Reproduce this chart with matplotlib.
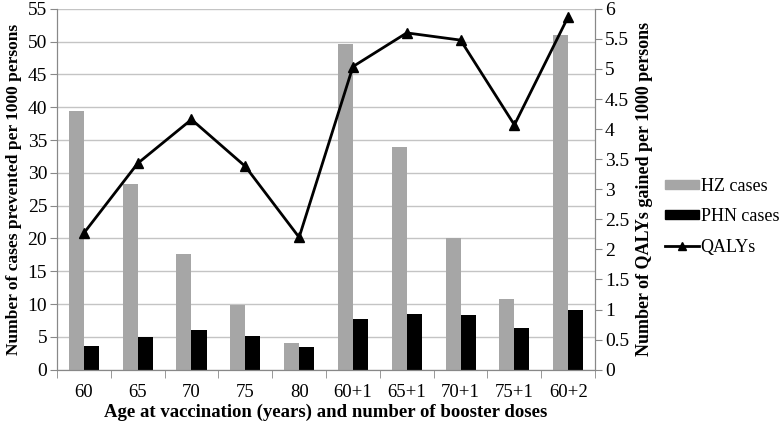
import numpy as np
import matplotlib
matplotlib.use("Agg")
import matplotlib.pyplot as plt
from matplotlib.patches import Patch
from matplotlib.lines import Line2D

plt.rcParams["font.family"] = ["Liberation Serif", "DejaVu Serif"]

groups = ["60", "65", "70", "75", "80", "60+1", "65+1", "70+1", "75+1", "60+2"]
hz_cases = [39.4, 28.3, 17.6, 9.8, 4.0, 49.6, 34.0, 20.0, 10.8, 51.0]
phn_cases = [3.6, 5.0, 6.1, 5.2, 3.5, 7.7, 8.5, 8.3, 6.3, 9.1]
qalys = [2.27, 3.43, 4.16, 3.38, 2.2, 5.04, 5.6, 5.48, 4.07, 5.87]

x = np.arange(len(groups))
w = 0.28

fig = plt.figure(figsize=(7.8, 4.21), dpi=100)
ax = fig.add_axes([0.073, 0.122, 0.69, 0.857])
ax2 = ax.twinx()

ax.bar(x - w / 2, hz_cases, width=w, color="#a6a6a6", zorder=2)
ax.bar(x + w / 2, phn_cases, width=w, color="black", zorder=2)
ax2.plot(x, qalys, color="black", lw=2, marker="^", markersize=7)

ax.set_xlim(-0.5, len(groups) - 0.5)
ax.set_ylim(0, 55)
ax.set_yticks(np.arange(0, 56, 5))
ax2.set_ylim(0, 6)
ax2.set_yticks(np.arange(0, 6.01, 0.5))
ax2.set_yticklabels([f"{v:g}" for v in np.arange(0, 6.01, 0.5)])

ax.yaxis.grid(True, color="#c4c4c4", lw=1, zorder=0)
ax.set_axisbelow(True)

ax.set_xticks(x)
ax.set_xticklabels(groups)
ax.set_xticks(np.arange(-0.5, len(groups), 1), minor=True)
ax.tick_params(axis="x", which="major", length=0, labelsize=13.5, pad=10)
ax.tick_params(axis="x", which="minor", length=6, color="#888888")
ax.tick_params(axis="y", labelsize=14, length=5, color="#888888", pad=2)
ax2.tick_params(axis="y", labelsize=14, length=5, color="#888888", pad=2)

for a in (ax, ax2):
    a.spines["top"].set_visible(False)
    for s in ("left", "right", "bottom"):
        a.spines[s].set_color("#888888")

ax.set_xlabel("Age at vaccination (years) and number of booster doses",
              fontsize=13.5, fontweight="bold", labelpad=2)
ax.set_ylabel("Number of cases prevented per 1000 persons",
              fontsize=12.5, fontweight="bold", labelpad=4)
ax2.set_ylabel("Number of QALYs gained per 1000 persons",
               fontsize=13, fontweight="bold", labelpad=5)

handles = [
    Patch(color="#a6a6a6", label="HZ cases"),
    Patch(color="black", label="PHN cases"),
    Line2D([], [], color="black", lw=2, marker="^", markersize=6, label="QALYs"),
]
fig.legend(handles=handles, loc="center left", bbox_to_anchor=(0.853, 0.485),
           frameon=False, fontsize=13, handlelength=1.85, handleheight=0.4,
           handletextpad=0.1, labelspacing=0.75, borderaxespad=0, borderpad=0)

fig.savefig("out.png", dpi=100)
